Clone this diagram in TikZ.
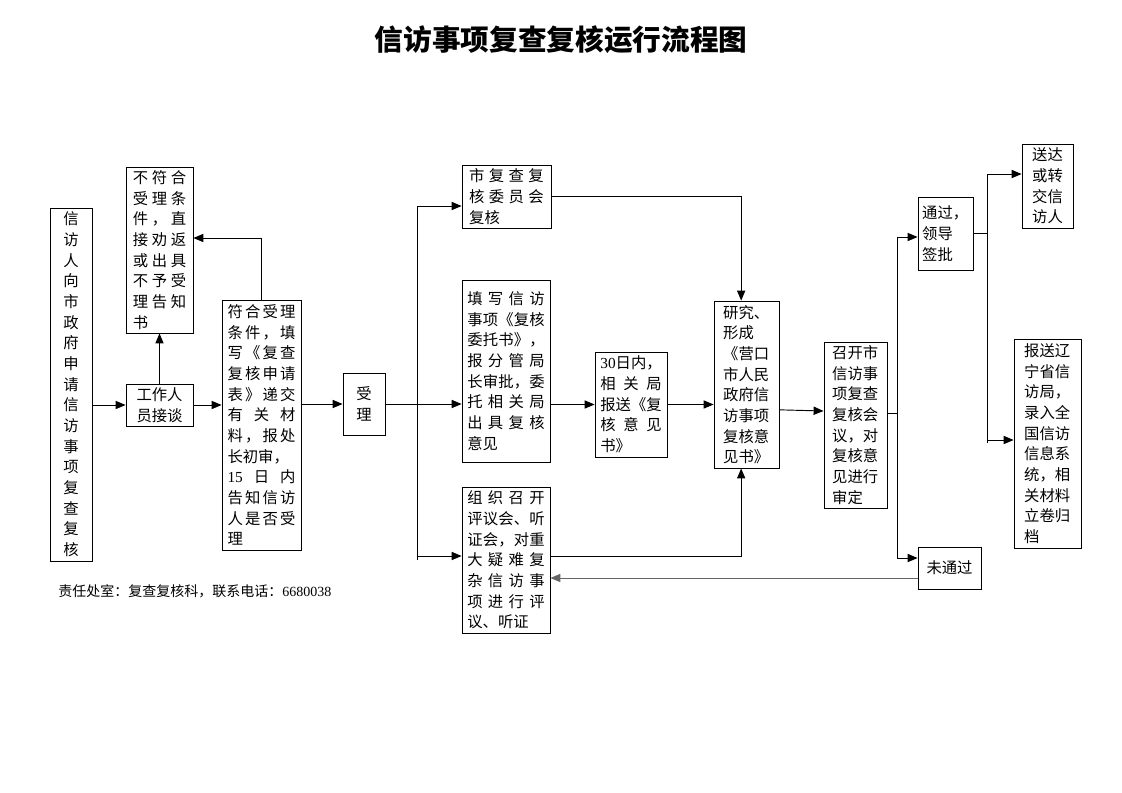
\documentclass[tikz,border=0pt]{standalone}
\usepackage{fontspec}
\setmainfont{Liberation Serif}
\newfontfamily\cjk{Noto Sans CJK SC}
\usetikzlibrary{arrows}
\usetikzlibrary{calc}

% spread one line of characters over the text width
\makeatletter
\newcommand{\sline}[1]{\makebox[\linewidth][s]{\sl@next#1\@nil}}
\def\sl@next#1#2\@nil{{#1}\ifx\relax#2\relax\else\hfill\sl@next#2\@nil\fi}
\makeatother

\tikzset{
	box/.style={draw, line width=0.7pt, inner sep=0pt, align=left, font=\cjk\fontsize{11.5}{15.5}\selectfont},
	arr/.style={-triangle 45, line width=0.7pt},
	trunk/.style={line width=0.7pt}
}

\begin{document}
\begin{tikzpicture}[x=0.75pt, y=-0.75pt]
		\useasboundingbox (0,0) rectangle (1122,793);
		\node[font=\cjk\bfseries\fontsize{21.5}{26}\selectfont] (title) at (561,40) {信访事项复查复核运行流程图};

		% left part
		\node[box, align=center, text width=12pt, minimum width=31.5pt, minimum height=264.75pt] (petition) at (71,384.5) {信\\访\\人\\向\\市\\政\\府\\申\\请\\信\\访\\事\\项\\复\\查\\复\\核};
		\node[box, text width=40pt, minimum width=50.25pt, minimum height=124.5pt] (reject) at (159.5,250) {\sline{不符合}\\\sline{受理条}\\\sline{件，直}\\\sline{接劝返}\\\sline{或出具}\\\sline{不予受}\\\sline{理告知}\\书};
		\node[box, align=center, text width=36pt, minimum width=50.25pt, minimum height=31.5pt] (talk) at (159.5,405) {工作人\\员接谈};
		\node[box, text width=51pt, minimum width=59.25pt, minimum height=187.5pt] (accept) at (261.5,425) {\sline{符合受理}\\\sline{条件，填}\\\sline{写《复查}\\\sline{复核申请}\\\sline{表》递交}\\\sline{有关材}\\\sline{料，报处}\\长初审，\\\sline{{\rmfamily 15}日内}\\\sline{告知信访}\\\sline{人是否受}\\理};
		\node[box, align=center, text width=12pt, minimum width=31.5pt, minimum height=46.5pt] (shouli) at (364,404) {受\\理};

		% three ways
		\node[box, text width=56pt, minimum width=66.75pt, minimum height=47.25pt] (committee) at (506.5,196.5) {\sline{市复查复}\\\sline{核委员会}\\复核};
		\node[box, text width=58pt, minimum width=66pt, minimum height=136.5pt] (entrust) at (506,371) {\sline{填写信访}\\\sline{事项《复核}\\\sline{委托书》，}\\\sline{报分管局}\\\sline{长审批，委}\\\sline{托相关局}\\\sline{出具复核}\\意见};
		\node[box, text width=58pt, minimum width=66pt, minimum height=109.5pt] (hearing) at (506,560) {\sline{组织召开}\\\sline{评议会、听}\\\sline{证会，对重}\\\sline{大疑难复}\\\sline{杂信访事}\\\sline{项进行评}\\议、听证};
		\node[box, text width=46pt, minimum width=54pt, minimum height=78.75pt] (days) at (631,404.5) {{\rmfamily 30}日内，\\\sline{相关局}\\\sline{报送《复}\\\sline{核意见}\\书》};

		% right part
		\node[box, text width=35pt, minimum width=48.75pt, minimum height=125.25pt] (study) at (746.5,384.5) {研究、\\形成\\《营口\\市人民\\政府信\\访事项\\复核意\\见书》};
		\node[box, text width=35pt, minimum width=47.25pt, minimum height=124.5pt] (meeting) at (855.5,425) {召开市\\信访事\\项复查\\复核会\\议，对\\复核意\\见进行\\审定};
		\node[box, text width=35pt, minimum width=41.25pt, minimum height=54.75pt] (pass) at (945.5,233.5) {通过，\\领导\\签批};
		\node[box, align=center, text width=36pt, minimum width=47.25pt, minimum height=31.5pt] (fail) at (949.5,568) {未通过};
		\node[box, text width=23pt, minimum width=38.25pt, minimum height=63pt] (deliver) at (1047.5,186) {送达\\或转\\交信\\访人};
		\node[box, text width=35pt, minimum width=50.25pt, minimum height=156.75pt] (report) at (1047.5,443.5) {报送辽\\宁省信\\访局，\\录入全\\国信访\\信息系\\统，相\\关材料\\立卷归\\档};

		\node[anchor=west, inner sep=0pt, font=\cjk\fontsize{10.5}{12}\selectfont] (duty) at (58,591) {责任处室：复查复核科，联系电话：{\rmfamily 6680038}};

		\coordinate (t1top) at (417,206);
		\coordinate (t1low) at (417,556);
		\coordinate (t1end) at (417,560);
		\coordinate (t2top) at (897,237);
		\coordinate (t2low) at (897,558);
		\coordinate (t3top) at (987,174);
		\coordinate (t3mid) at (987,440);
		\coordinate (t3end) at (987,443);

		\draw[arr] (petition.east |- talk.west) -- (talk.west);
		\draw[arr] (talk.north) -- (reject.south);
		\draw[arr] (accept.north) |- ([yshift=9pt]reject.east);
		\draw[arr] (talk.east) -- (talk.east -| accept.west);
		\draw[arr] (accept.east |- shouli.west) -- (shouli.west);
		\draw[arr] (shouli.east) -- (shouli.east -| entrust.west);
		\draw[trunk] (t1top) -- (t1end);
		\draw[arr] (t1top) -- (t1top -| committee.west);
		\draw[arr] (t1low) -- (t1low -| hearing.west);
		\draw[arr] (committee.east) -| ([xshift=-4pt]study.north);
		\draw[arr] (entrust.east |- days.west) -- (days.west);
		\draw[arr] (days.east) -- (days.east -| study.west);
		\draw[arr] ([yshift=3pt]hearing.east) -| ([xshift=-4pt]study.south);
		\draw[arr] ([yshift=-19pt]study.east) -- ([yshift=10.5pt]meeting.west);
		\draw[trunk] ([yshift=9pt]meeting.east) -- ([yshift=9pt]meeting.east -| t2top);
		\draw[trunk] (t2top) -- (t2low);
		\draw[arr] (t2top) -- (t2top -| pass.west);
		\draw[arr] (t2low) -- (t2low -| fail.west);
		\draw[arr, black!60] ([yshift=-7.5pt]fail.west) -- ([yshift=-7.5pt]fail.west -| hearing.east);
		\draw[trunk] (pass.east) -- (pass.east -| t3top);
		\draw[trunk] (t3top) -- (t3end);
		\draw[arr] (t3top) -- (t3top -| deliver.west);
		\draw[arr] (t3mid) -- (t3mid -| report.west);
	\end{tikzpicture}
\end{document}
